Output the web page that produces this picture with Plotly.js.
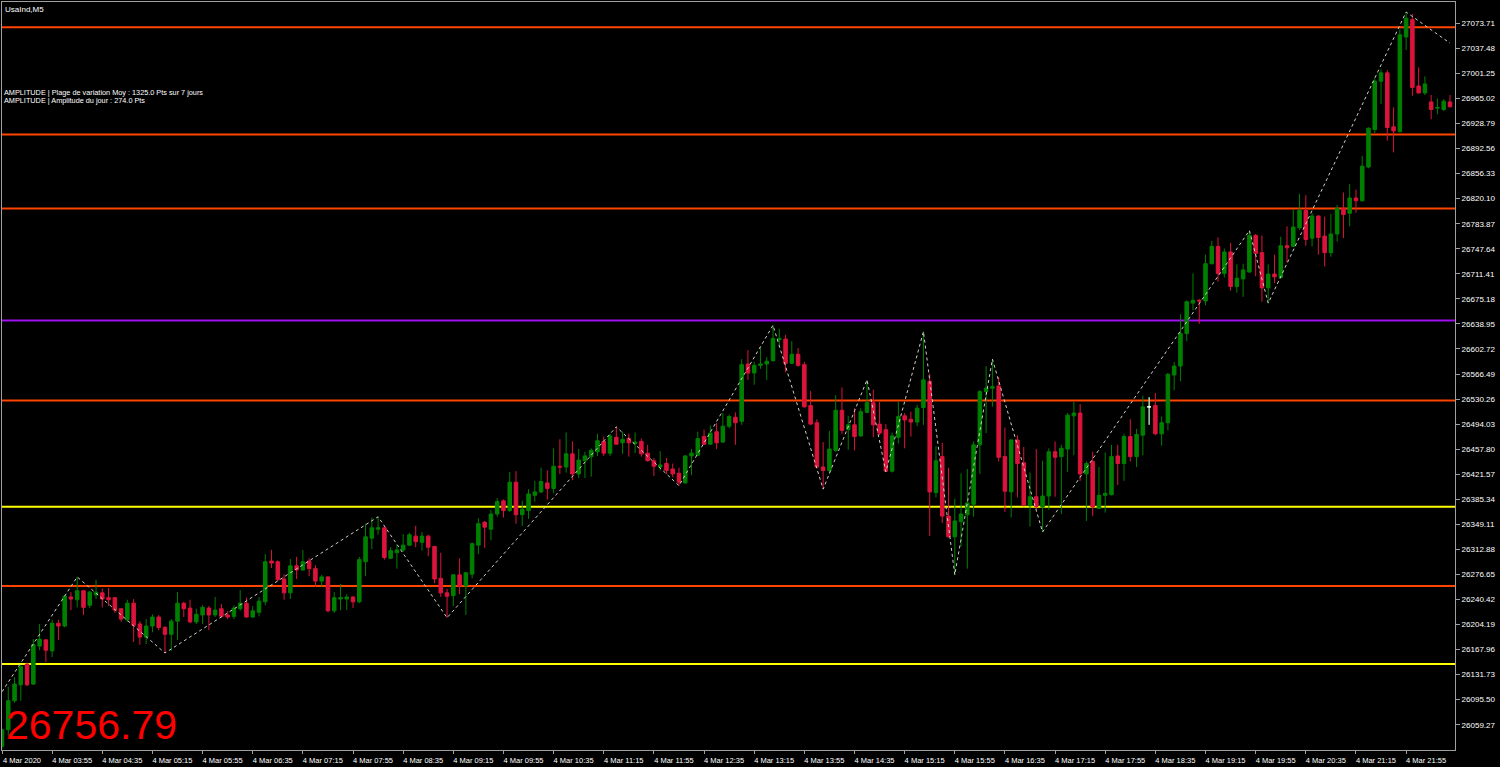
<!DOCTYPE html>
<html>
<head>
<meta charset="utf-8">
<script src="https://cdn.plot.ly/plotly-3.0.1.min.js"></script>
<style>html,body{margin:0;padding:0;background:#000;}#chart{width:1500px;height:767px;}</style>
</head>
<body>
<div id="chart"></div>
<script>
// ---- data (USA Ind, M5, 4 Mar 2020, bars from 03:15) ----
const startTime = '2020-03-04 03:15';
const openP = [26028,26052,26094,26117,26147,26118,26173,26182,26166,26206,26202,26244,26240,26253,26232,26247,26250,26243,26243,26227,
26211,26235,26205,26186,26202,26215,26200,26190,26209,26235,26228,26208,26218,26228,26218,26227,26218,26216,26227,26235,
26215,26222,26237,26296,26295,26270,26250,26289,26283,26296,26285,26267,26273,26224,26241,26241,26244,26237,26295,26329,
26342,26344,26300,26308,26312,26319,26332,26323,26332,26317,26271,26250,26246,26276,26260,26277,26319,26352,26342,26364,
26383,26369,26410,26363,26369,26391,26396,26409,26401,26433,26432,26451,26422,26441,26447,26454,26469,26452,26475,26467,
26473,26466,26469,26452,26441,26432,26437,26429,26423,26409,26448,26449,26476,26465,26483,26468,26491,26504,26498,26581,
26568,26579,26581,26586,26616,26617,26582,26595,26580,26521,26496,26432,26427,26456,26514,26486,26493,26477,26511,26525,
26494,26486,26426,26475,26506,26501,26497,26518,26556,26395,26447,26361,26331,26353,26363,26378,26464,26541,26546,26549,
26447,26396,26471,26438,26376,26389,26374,26390,26454,26447,26458,26506,26510,26422,26440,26372,26391,26392,26448,26437,
26476,26447,26478,26519,26521,26480,26496,26565,26578,26625,26669,26673,26672,26726,26751,26712,26743,26693,26704,26714,
26767,26742,26691,26711,26706,26752,26751,26778,26803,26763,26795,26766,26742,26769,26806,26799,26821,26817,26866,26920,
26990,27002,26924,26917,27054,27079,26983,26973,26960,26951,26949,26960];
const highP = [26054,26114,26128,26146,26149,26183,26205,26183,26211,26211,26247,26251,26273,26254,26253,26269,26256,26257,26244,26228,
26240,26241,26209,26212,26219,26218,26202,26212,26251,26237,26240,26227,26232,26231,26244,26234,26224,26232,26254,26243,
26231,26244,26306,26312,26297,26277,26299,26302,26312,26300,26290,26276,26274,26251,26263,26248,26245,26302,26350,26359,
26360,26345,26316,26319,26335,26337,26347,26338,26334,26318,26308,26256,26277,26300,26280,26323,26358,26354,26370,26387,
26385,26425,26426,26383,26400,26412,26431,26427,26459,26472,26482,26469,26458,26454,26459,26480,26476,26480,26490,26483,
26480,26482,26473,26464,26445,26455,26445,26437,26431,26449,26458,26483,26486,26492,26496,26510,26508,26511,26588,26601,
26584,26605,26591,26637,26632,26623,26614,26604,26584,26542,26501,26468,26484,26536,26547,26506,26517,26517,26558,26544,
26526,26494,26482,26526,26510,26512,26522,26628,26567,26462,26467,26431,26386,26423,26429,26469,26543,26578,26588,26562,
26489,26472,26478,26461,26424,26458,26441,26459,26469,26464,26510,26526,26523,26440,26454,26432,26453,26464,26464,26480,
26501,26487,26535,26533,26539,26505,26568,26584,26653,26673,26712,26675,26739,26759,26764,26748,26756,26725,26726,26774,
26769,26767,26725,26739,26765,26780,26804,26827,26825,26799,26796,26794,26798,26811,26829,26841,26833,26882,26923,26994,
27007,27006,26952,27065,27090,27087,27010,26997,26970,26965,26964,26970];
const lowP = [26024,26043,26091,26094,26115,26117,26167,26150,26157,26182,26200,26225,26229,26218,26228,26241,26229,26231,26221,26208,
26208,26179,26175,26176,26193,26196,26163,26166,26182,26215,26206,26205,26205,26196,26215,26215,26212,26212,26224,26214,
26214,26216,26232,26286,26267,26240,26241,26270,26282,26274,26259,26259,26222,26221,26225,26225,26228,26235,26274,26313,
26334,26298,26299,26285,26309,26318,26316,26311,26303,26264,26244,26214,26231,26248,26218,26271,26306,26315,26326,26360,
26359,26367,26350,26347,26357,26382,26394,26385,26394,26422,26424,26413,26416,26416,26418,26448,26448,26448,26464,26451,
26447,26452,26447,26440,26419,26427,26422,26417,26405,26408,26420,26448,26464,26464,26458,26467,26488,26464,26493,26558,
26551,26574,26558,26584,26608,26569,26581,26577,26518,26493,26430,26400,26422,26454,26480,26457,26456,26476,26510,26475,
26478,26425,26424,26466,26459,26476,26491,26493,26332,26388,26351,26330,26276,26317,26285,26360,26422,26481,26519,26440,
26367,26359,26388,26375,26346,26371,26338,26370,26389,26364,26425,26449,26412,26354,26361,26371,26366,26391,26406,26412,
26440,26432,26449,26493,26478,26463,26485,26543,26556,26614,26659,26639,26666,26725,26700,26706,26687,26684,26678,26713,
26708,26671,26669,26698,26704,26728,26750,26775,26752,26751,26739,26722,26736,26758,26763,26780,26800,26816,26864,26915,
26957,26904,26887,26916,27035,26969,26972,26970,26935,26942,26947,26952];
const closeP = [26052,26094,26118,26143,26117,26175,26183,26167,26206,26202,26245,26241,26253,26229,26251,26251,26241,26240,26225,26212,
26235,26203,26186,26202,26215,26200,26190,26209,26235,26227,26208,26219,26229,26218,26225,26216,26215,26228,26235,26215,
26224,26238,26295,26293,26269,26250,26289,26283,26295,26285,26267,26273,26224,26243,26243,26244,26237,26298,26331,26344,
26344,26301,26311,26312,26319,26334,26324,26332,26316,26270,26250,26245,26276,26260,26279,26321,26350,26345,26364,26382,
26369,26410,26363,26371,26393,26396,26411,26401,26433,26432,26451,26422,26442,26448,26456,26470,26452,26477,26465,26472,
26467,26468,26451,26441,26433,26435,26427,26422,26410,26448,26452,26473,26465,26481,26467,26491,26505,26496,26580,26568,
26579,26581,26585,26618,26618,26582,26595,26579,26519,26494,26432,26427,26458,26514,26485,26493,26476,26512,26525,26493,
26481,26426,26477,26505,26500,26497,26517,26558,26396,26441,26361,26331,26354,26364,26380,26464,26541,26546,26548,26446,
26397,26471,26437,26377,26389,26375,26390,26454,26446,26459,26507,26510,26422,26437,26374,26391,26394,26447,26437,26476,
26447,26479,26519,26519,26480,26496,26566,26578,26625,26671,26673,26672,26726,26751,26712,26743,26693,26705,26717,26767,
26741,26691,26711,26707,26752,26749,26779,26803,26761,26795,26764,26742,26769,26806,26797,26821,26817,26867,26922,26990,
27002,26923,26918,27057,27081,26981,26973,26986,26949,26952,26961,26953];

// zigzag pivots (bar index, price)
const zzBar   = [0, 12, 26, 60, 71, 98, 108, 123, 131, 138, 141, 147, 152, 158, 166, 199, 202, 224, 231];
const zzPrice = [26107, 26273, 26163, 26360, 26214, 26490, 26405, 26637, 26400, 26558, 26425, 26628, 26276, 26588, 26338, 26774, 26669, 27090, 27045];

// horizontal levels
const levelPrices = [27068, 26913, 26806, 26644, 26528, 26374.5, 26260, 26147];
const levelColors = ['#FF4500','#FF4500','#FF4500','#A010F0','#FF4500','#FFFF00','#FF4500','#FFFF00'];

// axis labels
const xTickTimes = ['2020-03-04 03:15','2020-03-04 03:55','2020-03-04 04:35','2020-03-04 05:15','2020-03-04 05:55','2020-03-04 06:35',
'2020-03-04 07:15','2020-03-04 07:55','2020-03-04 08:35','2020-03-04 09:15','2020-03-04 09:55','2020-03-04 10:35','2020-03-04 11:15',
'2020-03-04 11:55','2020-03-04 12:35','2020-03-04 13:15','2020-03-04 13:55','2020-03-04 14:35','2020-03-04 15:15','2020-03-04 15:55',
'2020-03-04 16:35','2020-03-04 17:15','2020-03-04 17:55','2020-03-04 18:35','2020-03-04 19:15','2020-03-04 19:55','2020-03-04 20:35',
'2020-03-04 21:15','2020-03-04 21:55'];
const xTickLabels = ['4 Mar 2020','4 Mar 03:55','4 Mar 04:35','4 Mar 05:15','4 Mar 05:55','4 Mar 06:35','4 Mar 07:15','4 Mar 07:55',
'4 Mar 08:35','4 Mar 09:15','4 Mar 09:55','4 Mar 10:35','4 Mar 11:15','4 Mar 11:55','4 Mar 12:35','4 Mar 13:15','4 Mar 13:55',
'4 Mar 14:35','4 Mar 15:15','4 Mar 15:55','4 Mar 16:35','4 Mar 17:15','4 Mar 17:55','4 Mar 18:35','4 Mar 19:15','4 Mar 19:55',
'4 Mar 20:35','4 Mar 21:15','4 Mar 21:55'];
const yTickLabels = ['27073.71','27037.48','27001.25','26965.02','26928.79','26892.56','26856.33','26820.10','26783.87','26747.64',
'26711.41','26675.18','26638.95','26602.72','26566.49','26530.26','26494.03','26457.80','26421.57','26385.34','26349.11','26312.88',
'26276.65','26240.42','26204.19','26167.96','26131.73','26095.50','26059.27'];

const symbolText = 'UsaInd,M5';
const infoLines = ['AMPLITUDE | Plage de variation Moy : 1325.0 Pts sur 7 jours', 'AMPLITUDE | Amplitude du jour : 274.0 Pts'];
const bigPrice = '26756.79';

// ---- build ----
const t0 = new Date(startTime.replace(' ', 'T') + ':00Z').getTime();
const times = openP.map((_, i) => new Date(t0 + i * 300000).toISOString().slice(0, 19).replace('T', ' '));

const GREEN = '#008000', RED = '#DC143C';
const traces = [];
traces.push({
  type: 'candlestick', x: times, open: openP, high: highP, low: lowP, close: closeP,
  increasing: {line: {color: GREEN, width: 1}, fillcolor: GREEN},
  decreasing: {line: {color: RED, width: 1}, fillcolor: RED},
  whiskerwidth: 0, hoverinfo: 'skip'
});
const dojiIdx = openP.map((o, i) => i).filter(i => openP[i] === closeP[i]);
traces.push({
  type: 'candlestick',
  x: dojiIdx.map(i => times[i]), open: dojiIdx.map(i => openP[i]), high: dojiIdx.map(i => highP[i]),
  low: dojiIdx.map(i => lowP[i]), close: dojiIdx.map(i => closeP[i]),
  increasing: {line: {color: '#FFFFFF', width: 1}, fillcolor: '#FFFFFF'},
  decreasing: {line: {color: '#FFFFFF', width: 1}, fillcolor: '#FFFFFF'},
  whiskerwidth: 0, hoverinfo: 'skip'
});
traces.push({
  type: 'scatter', mode: 'lines', x: zzBar.map(i => times[i]), y: zzPrice,
  line: {color: '#D0D0C8', width: 1, dash: 'dot'}, hoverinfo: 'skip'
});

const shapes = levelPrices.map((p, k) => ({
  type: 'line', xref: 'paper', x0: 0, x1: 1, yref: 'y', y0: p, y1: p,
  line: {color: levelColors[k], width: 2}, layer: 'below'
}));

const plotTop = 2, plotBottom = 750;
const fontAxis = {family: 'Liberation Sans, Arial, sans-serif', size: 8, color: '#FFFFFF'};
const annotations = [
  {text: symbolText, xref: 'paper', yref: 'paper', x: 0, y: 1, xanchor: 'left', yanchor: 'top', xshift: 1, yshift: -1,
   showarrow: false, font: {family: 'Liberation Sans, Arial, sans-serif', size: 8, color: '#FFFFFF'}},
  {text: infoLines[0], xref: 'paper', yref: 'paper', x: 0, y: 1 - (92 - plotTop) / (plotBottom - plotTop), xanchor: 'left', yanchor: 'middle', xshift: 0,
   showarrow: false, font: {family: 'Liberation Sans, Arial, sans-serif', size: 7.3, color: '#FFFFFF'}},
  {text: infoLines[1], xref: 'paper', yref: 'paper', x: 0, y: 1 - (101 - plotTop) / (plotBottom - plotTop), xanchor: 'left', yanchor: 'middle', xshift: 0,
   showarrow: false, font: {family: 'Liberation Sans, Arial, sans-serif', size: 7.3, color: '#FFFFFF'}},
  {text: bigPrice, xref: 'paper', yref: 'paper', x: 0, y: 1 - (725 - plotTop) / (plotBottom - plotTop), xanchor: 'left', yanchor: 'middle', xshift: 2,
   showarrow: false, font: {family: 'Liberation Sans, Arial, sans-serif', size: 41, color: '#FF0000'}}
];

const layout = {
  width: 1500, height: 767,
  margin: {l: 2, r: 45, t: 2, b: 17, pad: 0},
  paper_bgcolor: '#000000', plot_bgcolor: '#000000',
  showlegend: false, hovermode: false,
  boxgap: 0.25, boxgroupgap: 0.25,
  xaxis: {
    type: 'date', range: ['2020-03-04 03:15:00', '2020-03-04 22:34:00'],
    tickmode: 'array', tickvals: xTickTimes, ticktext: xTickLabels,
    ticks: 'outside', ticklen: 3, tickcolor: '#A0A0A0', ticklabelshift: 20,
    showgrid: false, zeroline: false, showline: true, mirror: true, linecolor: '#A0A0A0', linewidth: 1,
    tickfont: {family: 'Liberation Sans, Arial, sans-serif', size: 7.5, color: '#FFFFFF'},
    rangeslider: {visible: false}, fixedrange: true
  },
  yaxis: {
    side: 'right', range: [26022.7, 27104.5],
    tickmode: 'array', tickvals: yTickLabels.map(Number), ticktext: yTickLabels,
    ticks: 'outside', ticklen: 4, tickcolor: '#A0A0A0',
    showgrid: false, zeroline: false, showline: true, mirror: true, linecolor: '#A0A0A0', linewidth: 1,
    tickfont: fontAxis, fixedrange: true
  },
  shapes: shapes,
  annotations: annotations
};

Plotly.newPlot('chart', traces, layout, {displayModeBar: false, staticPlot: true});
</script>
</body>
</html>
